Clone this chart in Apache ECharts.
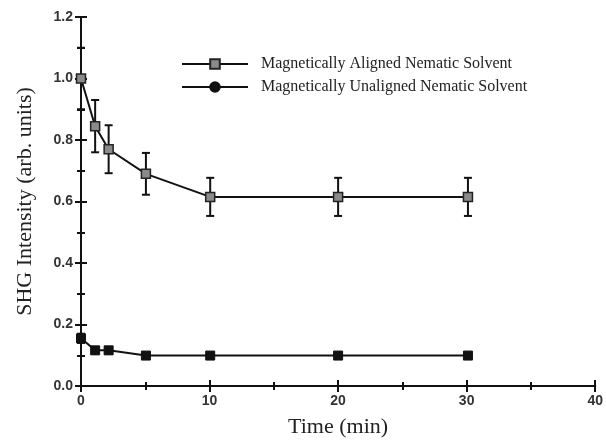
<!DOCTYPE html>
<html><head><meta charset="utf-8">
<script src="https://cdn.jsdelivr.net/npm/echarts@6/dist/echarts.min.js"></script>
<style>html,body{margin:0;padding:0;background:#fff}#c{width:606px;height:443px}</style>
</head><body><div id="c"></div>
<script>
const timeMin = [0, 1.1, 2.15, 5.05, 10.05, 20.0, 30.1];
const alignedVals = [1.0, 0.845, 0.77, 0.69, 0.615, 0.615, 0.615];
const alignedErr = [0.1, 0.085, 0.078, 0.068, 0.062, 0.062, 0.062];
const unalignedVals = [0.155, 0.116, 0.116, 0.099, 0.099, 0.099, 0.099];
const unalignedErr = [0.015, 0.01, 0.01, 0, 0, 0, 0];
const seriesNames = ['Magnetically Aligned Nematic Solvent', 'Magnetically Unaligned Nematic Solvent'];
const xTicks = [0, 10, 20, 30, 40];
const yTicks = [0, 0.2, 0.4, 0.6, 0.8, 1.0, 1.2];

const serif = '"Liberation Serif", "DejaVu Serif", serif';
const sans = '"Liberation Sans", Arial, sans-serif';

function errData(vals, errs) {
  return timeMin.map((t, i) => [t, vals[i] - errs[i], vals[i] + errs[i]]).filter((d, i) => errs[i] > 0);
}
function errRender(capHalf) {
  return function (params, api) {
    const x = api.value(0), lo = api.value(1), hi = api.value(2);
    const p1 = api.coord([x, lo]), p2 = api.coord([x, hi]);
    const st = { stroke: '#111', lineWidth: 2 };
    return { type: 'group', children: [
      { type: 'line', shape: { x1: p1[0], y1: p1[1], x2: p2[0], y2: p2[1] }, style: st },
      { type: 'line', shape: { x1: p1[0] - capHalf, y1: p1[1], x2: p1[0] + capHalf, y2: p1[1] }, style: st },
      { type: 'line', shape: { x1: p2[0] - capHalf, y1: p2[1], x2: p2[0] + capHalf, y2: p2[1] }, style: st }
    ]};
  };
}

const axisLine = { show: true, lineStyle: { color: '#111', width: 2 } };
const baseX = { type: 'value', min: 0, max: 40, interval: 10, axisLine: axisLine,
  axisTick: { inside: true, length: 6, lineStyle: { color: '#111', width: 2 } },
  minorTick: { show: true, splitNumber: 2, length: 4, lineStyle: { color: '#111', width: 2 } },
  splitLine: { show: false } };
const baseY = { type: 'value', min: 0, max: 1.2, interval: 0.2, axisLine: axisLine,
  axisTick: { inside: true, length: 6, lineStyle: { color: '#111', width: 2 } },
  minorTick: { show: true, splitNumber: 2, length: 4, lineStyle: { color: '#111', width: 2 } },
  splitLine: { show: false } };

const chart = echarts.init(document.getElementById('c'), null, { renderer: 'canvas' });
chart.setOption({
  animation: false,
  backgroundColor: '#fff',
  grid: { left: 81, right: 9, top: 17, bottom: 51 },
  legend: {
    orient: 'vertical', left: 176, top: 51, itemWidth: 66, itemHeight: 12, itemGap: 7,
    textStyle: { fontFamily: serif, fontSize: 16, lineHeight: 16, color: '#222', padding: [0, 0, 0, 8] },
    data: seriesNames
  },
  xAxis: [
    Object.assign({}, baseX, { position: 'bottom', name: 'Time (min)', nameLocation: 'middle', nameGap: 30,
      nameTextStyle: { fontFamily: serif, fontSize: 22, color: '#222' },
      axisLabel: { fontFamily: sans, fontWeight: 'bold', fontSize: 14, color: '#333', margin: 8,
        formatter: v => xTicks.includes(v) ? String(v) : '' } }),
    Object.assign({}, baseX, { position: 'top', axisLabel: { show: false } })
  ],
  yAxis: [
    Object.assign({}, baseY, { position: 'left', name: 'SHG Intensity (arb. units)', nameLocation: 'middle', nameGap: 45,
      nameTextStyle: { fontFamily: serif, fontSize: 22, color: '#222' },
      axisLabel: { fontFamily: sans, fontWeight: 'bold', fontSize: 14, color: '#333', margin: 8,
        formatter: v => yTicks.some(t => Math.abs(t - v) < 1e-9) ? v.toFixed(1) : '' } }),
    Object.assign({}, baseY, { position: 'right', axisLabel: { show: false } })
  ],
  series: [
    { type: 'custom', name: 'errA', renderItem: errRender(4), data: errData(alignedVals, alignedErr), z: 2, silent: true },
    { type: 'custom', name: 'errU', renderItem: errRender(4), data: errData(unalignedVals, unalignedErr), z: 2, silent: true },
    { type: 'line', name: seriesNames[0], data: timeMin.map((t, i) => [t, alignedVals[i]]),
      symbol: 'rect', symbolSize: 9, showAllSymbol: true,
      lineStyle: { color: '#111', width: 2 },
      itemStyle: { color: '#8a8a8a', borderColor: '#222', borderWidth: 1.5 }, z: 3 },
    { type: 'line', name: seriesNames[1], data: timeMin.map((t, i) => ({ value: [t, unalignedVals[i]], symbol: 'rect', symbolSize: 9 })),
      symbol: 'circle', symbolSize: 8, showAllSymbol: true,
      lineStyle: { color: '#111', width: 2 },
      itemStyle: { color: '#111', borderColor: '#111', borderWidth: 1 }, z: 3 }
  ]
});
</script></body></html>
